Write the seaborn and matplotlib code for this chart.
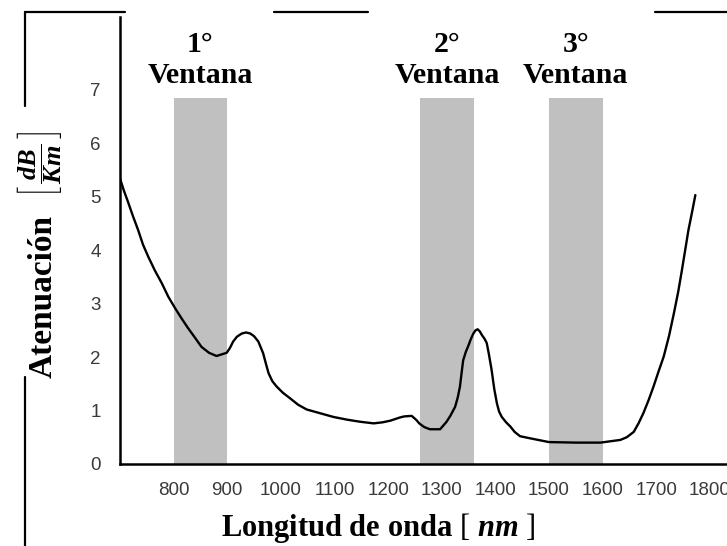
import matplotlib
matplotlib.use("Agg")
import matplotlib.pyplot as plt
import seaborn as sns
import pandas as pd
from matplotlib.lines import Line2D

# Fibre attenuation spectrum (nm, dB/Km)
wavelength = [700, 707, 715, 724, 734, 743, 753, 765, 778, 790, 803, 815, 827, 840,
              852, 866, 880, 899, 905, 911, 918, 927, 935, 943, 950, 958, 967, 972,
              977, 984, 992, 1004, 1017, 1032, 1048, 1073, 1098, 1123, 1148, 1173,
              1190, 1204, 1222, 1230, 1244, 1253, 1258, 1266, 1270, 1278, 1297,
              1309, 1316, 1325, 1330, 1334, 1337, 1340, 1345, 1350, 1354, 1359,
              1363, 1367, 1371, 1375, 1380, 1384, 1388, 1393, 1398, 1403, 1407,
              1412, 1420, 1428, 1436, 1446, 1465, 1500, 1550, 1596, 1633, 1645,
              1658, 1667, 1676, 1686, 1695, 1704, 1714, 1724, 1733, 1741, 1748,
              1754, 1760, 1767, 1773]
attenuation = [5.34, 5.12, 4.90, 4.64, 4.37, 4.10, 3.87, 3.62, 3.38, 3.13, 2.91, 2.72,
               2.54, 2.36, 2.19, 2.08, 2.02, 2.08, 2.17, 2.29, 2.38, 2.44, 2.46, 2.44,
               2.39, 2.29, 2.07, 1.88, 1.70, 1.55, 1.45, 1.33, 1.23, 1.11, 1.02, 0.95,
               0.88, 0.83, 0.79, 0.76, 0.78, 0.81, 0.87, 0.89, 0.90, 0.82, 0.76, 0.70,
               0.68, 0.65, 0.65, 0.79, 0.90, 1.07, 1.25, 1.45, 1.70, 1.94, 2.10, 2.22,
               2.33, 2.44, 2.50, 2.52, 2.48, 2.41, 2.34, 2.26, 2.05, 1.76, 1.40, 1.13,
               0.98, 0.88, 0.78, 0.70, 0.60, 0.52, 0.48, 0.41, 0.40, 0.40, 0.45, 0.50,
               0.60, 0.76, 0.95, 1.20, 1.45, 1.72, 2.01, 2.40, 2.82, 3.22, 3.63, 4.00,
               4.37, 4.72, 5.03]

# Transmission windows
window_start = [800, 1260, 1500]
window_end = [900, 1360, 1600]
window_top = 6.85
window_names = ["1°", "2°", "3°"]
window_word = "Ventana"

x_ticks = [700, 800, 900, 1000, 1100, 1200, 1300, 1400, 1500, 1600, 1700, 1800]
x_labels = ["", "800", "900", "1000", "1100", "1200", "1300", "1400", "1500",
            "1600", "1700", "1800"]
y_ticks = [0, 1, 2, 3, 4, 5, 6, 7]

sns.set_style("white")
plt.rcParams["mathtext.fontset"] = "custom"
plt.rcParams["mathtext.it"] = "Liberation Serif:italic:bold"
plt.rcParams["mathtext.rm"] = "Liberation Serif"
plt.rcParams["mathtext.bf"] = "Liberation Serif:bold"

W, H = 727, 546
fig = plt.figure(figsize=(W / 100, H / 100), dpi=100)
ax = fig.add_axes([120 / W, (H - 464) / H, 1 - 120 / W, (464 - 17) / H])

# grey window bands
for s, e in zip(window_start, window_end):
    ax.fill_between([s, e], 0, window_top, color="#c0c0c0", lw=0, zorder=1)

df = pd.DataFrame({"nm": wavelength, "att": attenuation})
sns.lineplot(data=df, x="nm", y="att", color="black", lw=1.7, ax=ax, zorder=3)

ax.set_xlim(700, 1832)
ax.set_ylim(0, 8.36)
ax.set_xticks(x_ticks)
ax.set_xticklabels(x_labels)
ax.set_yticks(y_ticks)
ax.set_yticklabels([str(v) for v in y_ticks])

for side in ["top", "right"]:
    ax.spines[side].set_visible(False)
for side in ["left", "bottom"]:
    ax.spines[side].set_color("black")
    ax.spines[side].set_linewidth(1.8)
    ax.spines[side].set_zorder(4)

ax.tick_params(axis="both", direction="inout", length=12, width=1.2, color="black",
               labelsize=13.5, labelcolor="#3a3a3a")
ax.tick_params(axis="x", pad=7)
ax.tick_params(axis="y", pad=8)
for lab in ax.get_xticklabels() + ax.get_yticklabels():
    lab.set_fontfamily("Liberation Sans")

ax.set_xlabel("")
ax.set_ylabel("")

serif = dict(fontweight="bold", family="Liberation Serif", color="black")

# window captions
for s, e, name in zip(window_start, window_end, window_names):
    c = (s + e) / 2
    ax.text(c, 7.70, name, ha="center", va="baseline", fontsize=21.5,
            clip_on=False, **serif)
    ax.text(c, 7.12, window_word, ha="center", va="baseline", fontsize=21.5,
            clip_on=False, **serif)

fig.text(378 / W, 1 - 528 / H, r"Longitud de onda $[\ nm\ ]$", ha="center",
         va="center", fontsize=22, **serif)
fig.text(43 / W, 1 - 297 / H, "Atenuación", ha="center", va="center",
         rotation=90, fontsize=24, **serif)
fig.text(40 / W, 1 - 165 / H, r"$\left[\,\dfrac{dB}{Km}\,\right]$", ha="center",
         va="center", rotation=90, fontsize=19, **serif)

# frame segments around the figure
segs = [((25, 12), (125, 12)), ((25, 12), (25, 106)), ((25, 377), (25, 546)),
        ((274, 12), (368, 12)), ((655, 12), (727, 12))]
for (x0, y0), (x1, y1) in segs:
    fig.add_artist(Line2D([x0 / W, x1 / W], [1 - y0 / H, 1 - y1 / H],
                          transform=fig.transFigure, color="black", lw=1.6))

fig.savefig("out.png", dpi=100)
